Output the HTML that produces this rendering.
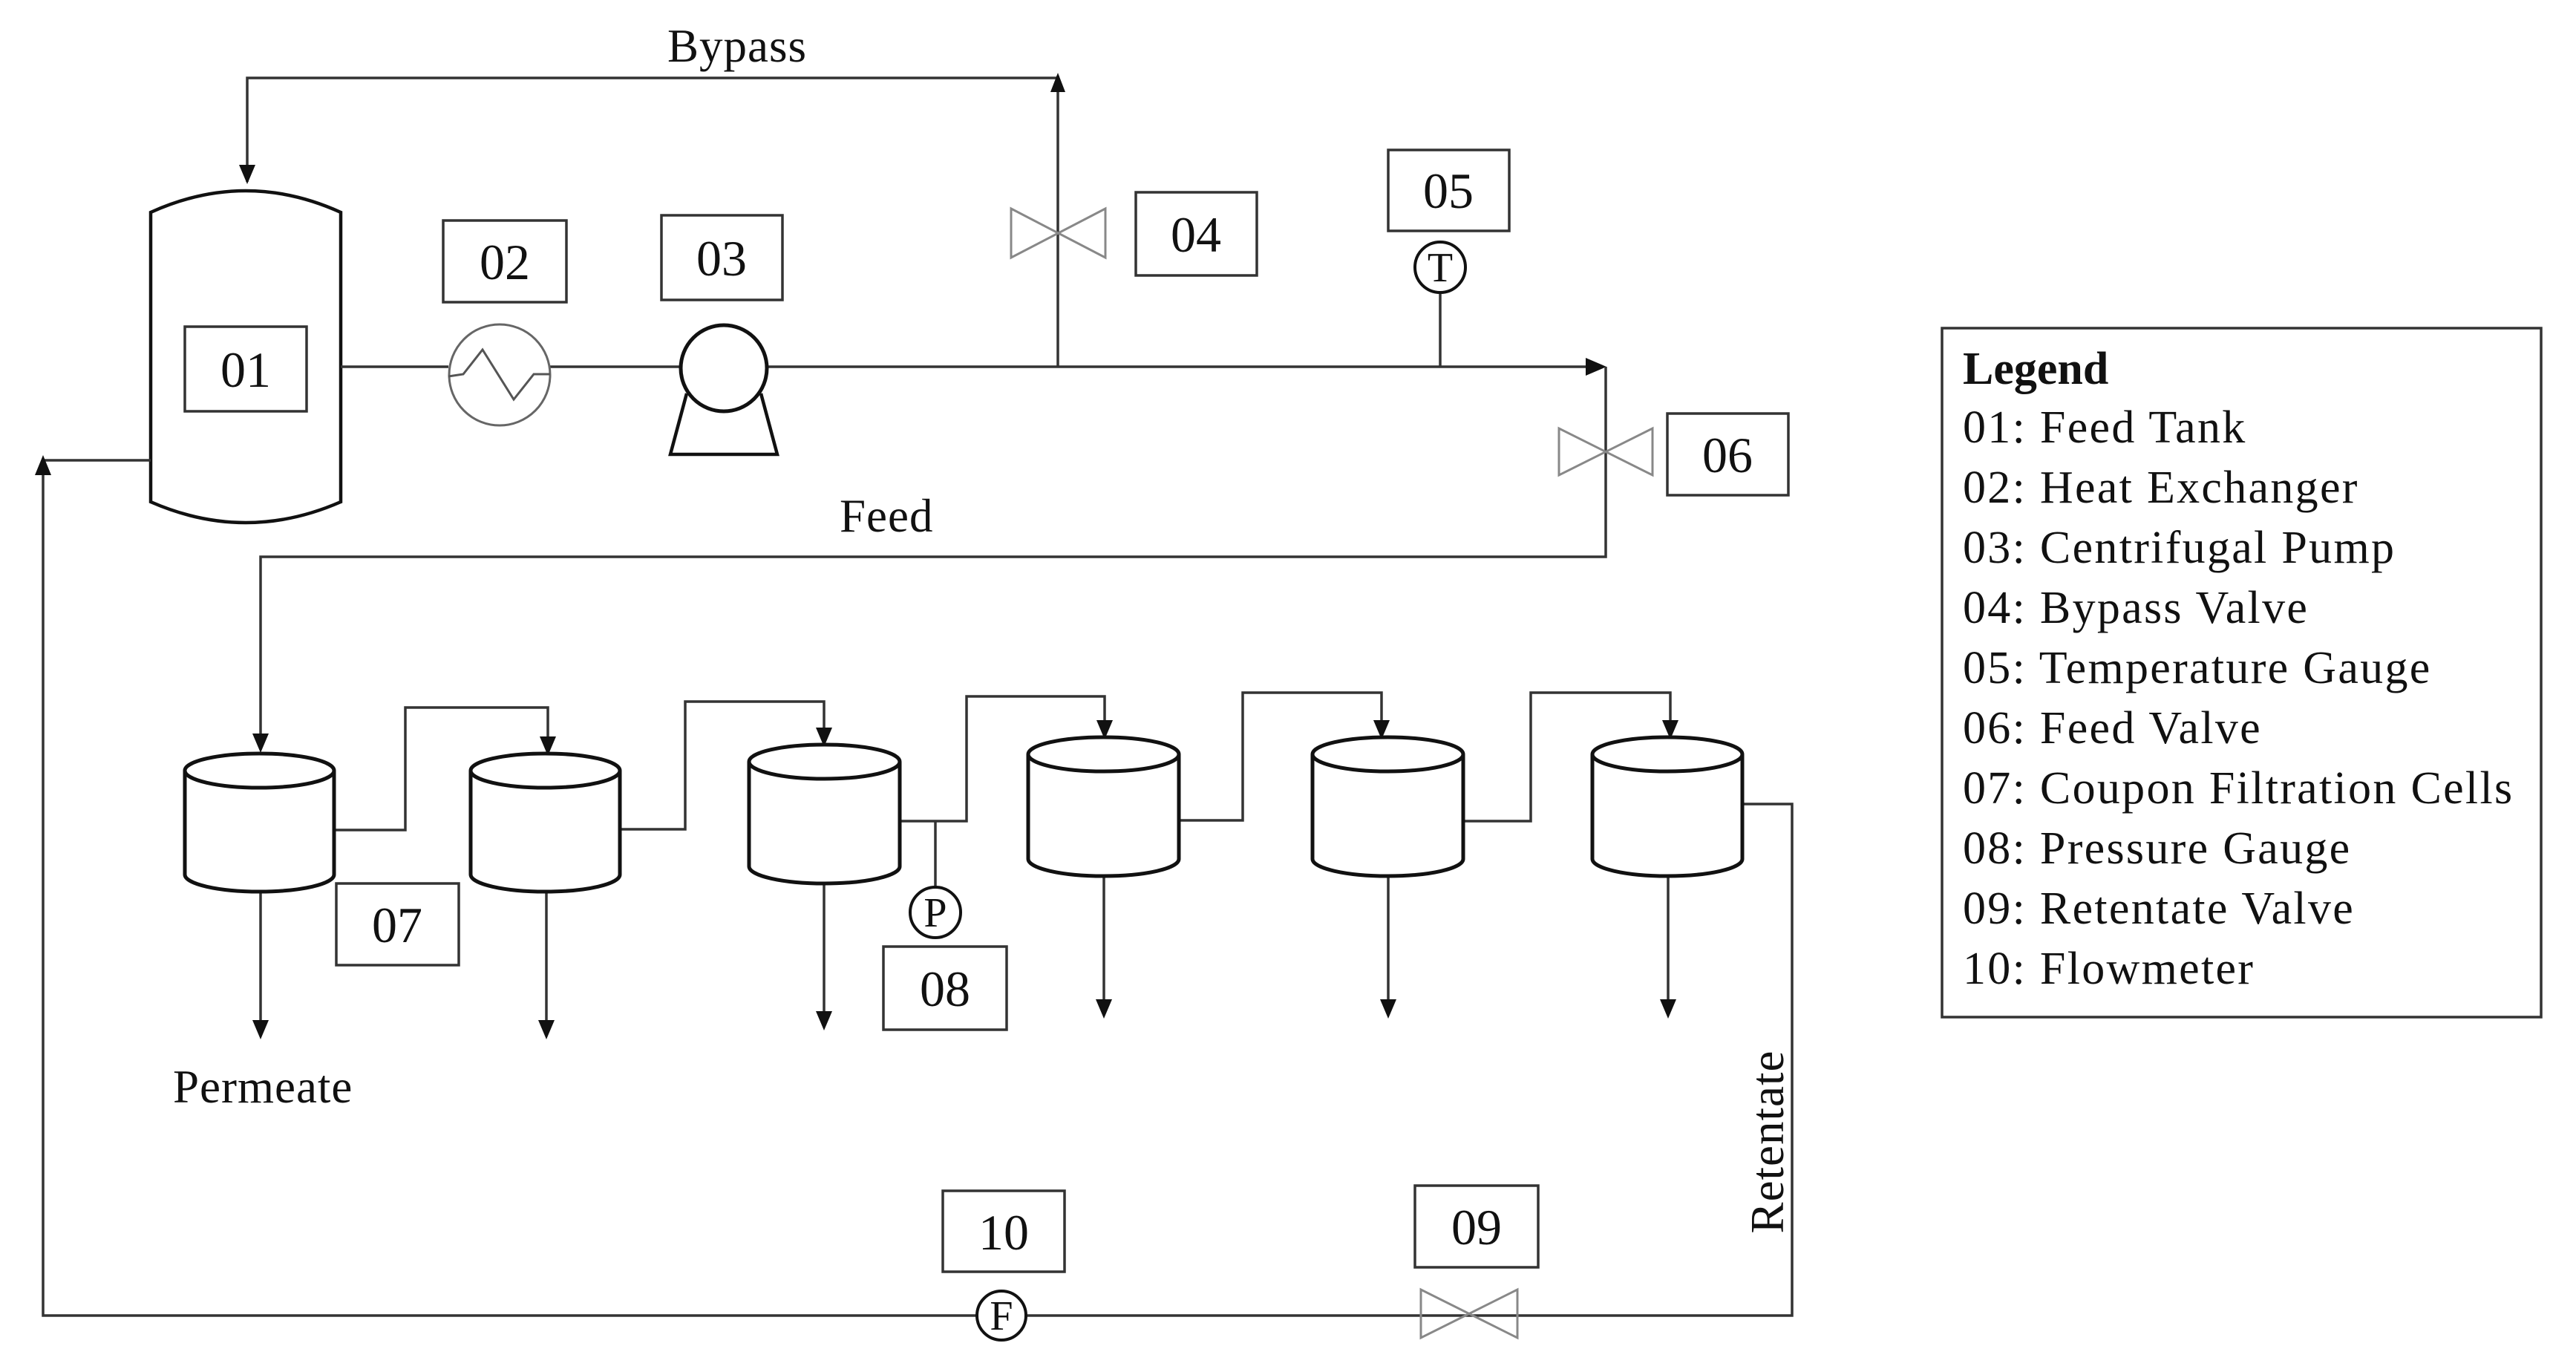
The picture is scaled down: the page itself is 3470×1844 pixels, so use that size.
<!DOCTYPE html>
<html><head><meta charset="utf-8"><style>
html,body{margin:0;padding:0;background:#fff;}
svg{display:block;}
text{font-family:"Liberation Serif",serif;fill:#111;}
</style></head><body>
<svg width="3470" height="1844" viewBox="0 0 3470 1844" xmlns="http://www.w3.org/2000/svg">
<rect width="3470" height="1844" fill="#fff"/>
<g stroke="#333" stroke-width="3.5" fill="none">
<path d="M333,245 V105 H1425"/>
<path d="M1425,494 V102"/>
<polygon points="1415,124 1425,98 1435,124" fill="#111" stroke="none"/>
<polygon points="322,222 333,248 344,222" fill="#111" stroke="none"/>
<path d="M203,286 Q331,228 459,286 L459,676 Q331,732 203,676 Z" stroke="#111" stroke-width="4.5"/>
<path d="M459,494 H604 M741,494 H917 M1034,494 H2140"/>
<polygon points="2136,482 2164,494 2136,506" fill="#111" stroke="none"/>
<circle cx="673" cy="505" r="68" stroke="#666" stroke-width="3"/>
<polyline points="604,507 624,504 650,471 692,538 719,504 741,504" stroke="#555" stroke-width="3"/>
<circle cx="975" cy="496" r="58" stroke="#111" stroke-width="5"/>
<path d="M925,530 L903,612 H1047 L1025,530" stroke="#111" stroke-width="4.5"/>
<path d="M1362,281 L1362,347 L1489,281 L1489,347 Z" stroke="#888" stroke-width="3"/>
<path d="M1940,396 V494"/>
<circle cx="1940" cy="360" r="34" stroke="#111" stroke-width="4"/>
<path d="M2163,494 V750 H351 V1005"/>
<polygon points="340,988 351,1014 362,988" fill="#111" stroke="none"/>
<path d="M2100,577 L2100,640 L2226,577 L2226,640 Z" stroke="#888" stroke-width="3"/>
<g stroke="#333" stroke-width="3.5">
<rect x="249" y="440" width="164" height="114"/>
<rect x="597" y="297" width="166" height="110"/>
<rect x="891" y="290" width="163" height="114"/>
<rect x="1530" y="259" width="163" height="112"/>
<rect x="1870" y="202" width="163" height="109"/>
<rect x="2246" y="557" width="163" height="110"/>
<rect x="453" y="1190" width="165" height="110"/>
<rect x="1190" y="1275" width="166" height="112"/>
<rect x="1270" y="1604" width="164" height="109"/>
<rect x="1906" y="1597" width="166" height="110"/>
<rect x="2616" y="442" width="807" height="928"/>
</g>
<path d="M450,1118 H546 V953 H738 V1010"/>
<path d="M835,1117 H923 V945 H1110 V998"/>
<path d="M1212,1106 H1302 V938 H1488 V988"/>
<path d="M1588,1105 H1674 V933 H1861 V988"/>
<path d="M1971,1106 H2062 V933 H2250 V988"/>
<path d="M2347,1083 H2414 V1772 H58 V625"/>
<path d="M58,620 H203"/>
<polygon points="47,640 58,613 69,640" fill="#111" stroke="none"/>
<path d="M1260,1106 V1194"/>
<circle cx="1260" cy="1229" r="34" stroke="#111" stroke-width="4"/>
<path d="M351,1202 V1380 M736,1202 V1380 M1110,1190 V1368 M1487,1180 V1352 M1870,1180 V1352 M2247,1180 V1352"/>
</g>
<g fill="#111">
<polygon points="340,1374 351,1400 362,1374"/>
<polygon points="725,1374 736,1400 747,1374"/>
<polygon points="1099,1362 1110,1388 1121,1362"/>
<polygon points="1476,1346 1487,1372 1498,1346"/>
<polygon points="1859,1346 1870,1372 1881,1346"/>
<polygon points="2236,1346 2247,1372 2258,1346"/>
<polygon points="727,992 738,1018 749,992"/>
<polygon points="1099,980 1110,1006 1121,980"/>
<polygon points="1477,970 1488,996 1499,970"/>
<polygon points="1850,970 1861,996 1872,970"/>
<polygon points="2239,970 2250,996 2261,970"/>
</g>
<g stroke="#111" stroke-width="5" fill="#fff">
<path d="M249,1038 V1178 A100.5,23 0 0 0 450,1178 V1038"/><ellipse cx="349.5" cy="1038" rx="100.5" ry="23"/>
<path d="M634,1038 V1178 A100.5,23 0 0 0 835,1178 V1038"/><ellipse cx="734.5" cy="1038" rx="100.5" ry="23"/>
<path d="M1009,1026 V1167 A101.5,23 0 0 0 1212,1167 V1026"/><ellipse cx="1110.5" cy="1026" rx="101.5" ry="23"/>
<path d="M1385,1016 V1157 A101.5,23 0 0 0 1588,1157 V1016"/><ellipse cx="1486.5" cy="1016" rx="101.5" ry="23"/>
<path d="M1768,1016 V1157 A101.5,23 0 0 0 1971,1157 V1016"/><ellipse cx="1869.5" cy="1016" rx="101.5" ry="23"/>
<path d="M2145,1016 V1157 A101,23 0 0 0 2347,1157 V1016"/><ellipse cx="2246" cy="1016" rx="101" ry="23"/>
</g>
<path d="M1914,1737 L1914,1802 L2044,1737 L2044,1802 Z" stroke="#888" stroke-width="3" fill="none"/>
<circle cx="1349" cy="1772" r="33" stroke="#111" stroke-width="4" fill="#fff"/>
<g font-size="68" text-anchor="middle">
<text x="331" y="521">01</text>
<text x="680" y="376">02</text>
<text x="972" y="371">03</text>
<text x="1611" y="339">04</text>
<text x="1951" y="280">05</text>
<text x="2327" y="636">06</text>
<text x="535" y="1269">07</text>
<text x="1273" y="1355">08</text>
<text x="1352" y="1683">10</text>
<text x="1989" y="1676">09</text>
</g>
<g font-size="56" text-anchor="middle">
<text x="1940" y="379">T</text>
<text x="1260" y="1248">P</text>
<text x="1349" y="1791">F</text>
</g>
<g font-size="63" letter-spacing="1">
<text x="899" y="83">Bypass</text>
<text x="1131" y="716">Feed</text>
<text x="233" y="1485">Permeate</text>
<text x="2402" y="1538" text-anchor="middle" transform="rotate(-90 2402 1538)">Retentate</text>
</g>
<g font-size="62" letter-spacing="2.3">
<text x="2644" y="517" font-weight="bold" letter-spacing="0">Legend</text>
<text x="2644" y="596">01: Feed Tank</text>
<text x="2644" y="677">02: Heat Exchanger</text>
<text x="2644" y="758">03: Centrifugal Pump</text>
<text x="2644" y="839">04: Bypass Valve</text>
<text x="2644" y="920">05: Temperature Gauge</text>
<text x="2644" y="1001">06: Feed Valve</text>
<text x="2644" y="1082">07: Coupon Filtration Cells</text>
<text x="2644" y="1163">08: Pressure Gauge</text>
<text x="2644" y="1244">09: Retentate Valve</text>
<text x="2644" y="1325">10: Flowmeter</text>
</g>
</svg>
</body></html>
